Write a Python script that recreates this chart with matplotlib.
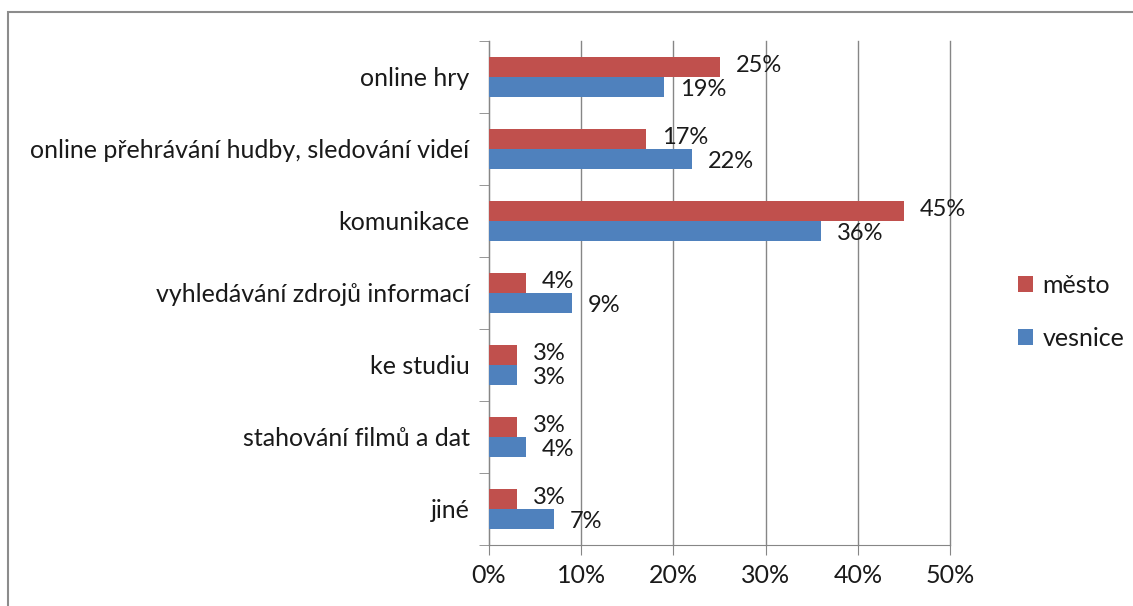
import matplotlib.pyplot as plt
from matplotlib.patches import Rectangle
from matplotlib.ticker import MultipleLocator, FuncFormatter

categories = ['online hry', 'online přehrávání hudby, sledování videí', 'komunikace',
              'vyhledávání zdrojů informací', 'ke studiu', 'stahování filmů a dat', 'jiné']
mesto = [25, 17, 45, 4, 3, 3, 3]
vesnice = [19, 22, 36, 9, 3, 4, 7]

red = '#C0504D'
blue = '#4F81BD'
grid_col = '#868686'
fs = 18

plt.rcParams['font.family'] = ['Lato', 'DejaVu Sans']

fig = plt.figure(figsize=(11.33, 6.06), dpi=100)
ax = fig.add_axes([489 / 1133, 1 - 545 / 606, (950 - 489) / 1133, (545 - 41) / 606])

n = len(categories)
pos = [n - 1 - i for i in range(n)]
h = 0.28
ax.barh([p + h / 2 for p in pos], mesto, height=h, color=red, label='město', zorder=3)
ax.barh([p - h / 2 for p in pos], vesnice, height=h, color=blue, label='vesnice', zorder=3)

# popisky hodnot vpravo od sloupcu
for p, v in zip(pos, mesto):
    ax.annotate(f'{v}%', (v, p + h / 2), xytext=(16, 1), textcoords='offset pixels',
                va='center', ha='left', fontsize=17, color='#1a1a1a', zorder=4)
for p, v in zip(pos, vesnice):
    ax.annotate(f'{v}%', (v, p - h / 2), xytext=(16, -2), textcoords='offset pixels',
                va='center', ha='left', fontsize=17, color='#1a1a1a', zorder=4)

ax.set_xlim(0, 50)
ax.set_ylim(-0.5, n - 0.5)
ax.xaxis.set_major_locator(MultipleLocator(10))
ax.xaxis.set_major_formatter(FuncFormatter(lambda x, _: f'{x:.0f}%'))
ax.grid(axis='x', color=grid_col, linewidth=1, zorder=0)
for gl in ax.get_xgridlines():
    gl.set_clip_on(False)

ax.set_yticks(pos)
ax.set_yticklabels(categories)
ax.set_yticks([k - 0.5 for k in range(n + 1)], minor=True)
ax.tick_params(axis='y', which='major', length=0, pad=14, labelsize=fs, labelcolor='#1a1a1a')
ax.tick_params(axis='y', which='minor', length=7, color=grid_col, direction='out')
ax.tick_params(axis='x', length=7, color=grid_col, direction='out', pad=7, labelsize=fs,
               labelcolor='#1a1a1a')

for s in ['top', 'right']:
    ax.spines[s].set_visible(False)
ax.spines['left'].set_color(grid_col)
ax.spines['bottom'].set_color(grid_col)

ax.legend(loc='center left', bbox_to_anchor=(995 / 1133, 1 - 312 / 606), bbox_transform=fig.transFigure,
          frameon=False, fontsize=fs, handlelength=0.6, handleheight=0.6, labelspacing=1.2,
          handletextpad=0.4, labelcolor='#1a1a1a')

fig.patches.append(Rectangle((8 / 1133, -0.1), 1.2, 1 - 12 / 606 + 0.1, transform=fig.transFigure,
                             fill=False, edgecolor='#8c8c8c', linewidth=1.5))

plt.savefig('out.png', dpi=100)
